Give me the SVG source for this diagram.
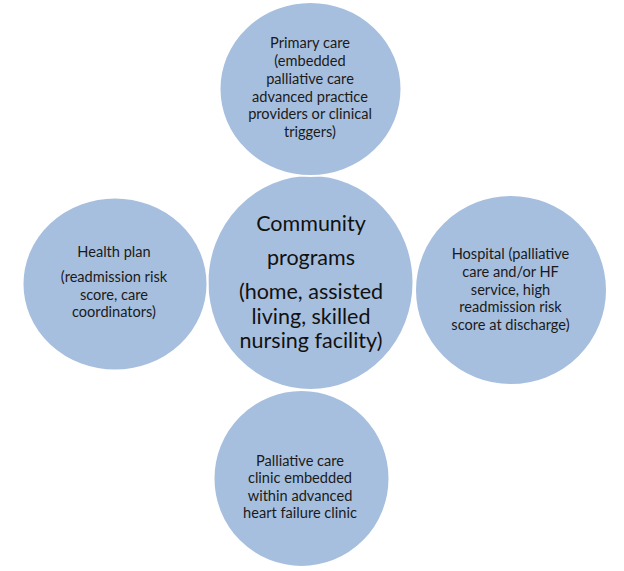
<svg xmlns="http://www.w3.org/2000/svg" width="624" height="571" viewBox="0 0 624 571">
<style>
.c{fill:#A7BFDE;stroke:#FFFFFF;stroke-width:2}
.t{font-family:Lato,"Liberation Sans",sans-serif;font-size:14.6px;fill:#1A1A1A;text-anchor:middle}
.b{font-family:Lato,"Liberation Sans",sans-serif;font-size:21.5px;fill:#111111;text-anchor:middle}
</style>
<rect width="624" height="571" fill="#FFFFFF"/>
<g id="connectors"></g>
<g id="center">
<ellipse class="c" cx="310.5" cy="282.5" rx="103" ry="107.5"/>
<text class="b" x="311" y="231">Community</text>
<text class="b" x="311" y="265">programs</text>
<text class="b" x="311" y="299">(home, assisted</text>
<text class="b" x="311" y="324">living, skilled</text>
<text class="b" x="311" y="348">nursing facility)</text>
</g>
<g id="primary-care">
<ellipse class="c" cx="310.5" cy="89" rx="91" ry="87"/>
<text class="t" x="310" y="48">Primary care</text>
<text class="t" x="310" y="66">(embedded</text>
<text class="t" x="310" y="84">palliative care</text>
<text class="t" x="310" y="102">advanced practice</text>
<text class="t" x="310" y="119">providers or clinical</text>
<text class="t" x="310" y="137">triggers)</text>
</g>
<g id="health-plan">
<ellipse class="c" cx="115" cy="284" rx="92.5" ry="86.5"/>
<text class="t" x="114" y="257">Health plan</text>
<text class="t" x="114" y="282">(readmission risk</text>
<text class="t" x="114" y="300">score, care</text>
<text class="t" x="114" y="317">coordinators)</text>
</g>
<g id="hospital">
<ellipse class="c" cx="511" cy="290" rx="96" ry="95"/>
<text class="t" x="510.5" y="259">Hospital (palliative</text>
<text class="t" x="510.5" y="277">care and/or HF</text>
<text class="t" x="510.5" y="295">service, high</text>
<text class="t" x="510.5" y="312">readmission risk</text>
<text class="t" x="510.5" y="330">score at discharge)</text>
</g>
<g id="palliative-clinic">
<ellipse class="c" cx="301.5" cy="478.5" rx="88" ry="88.5"/>
<text class="t" x="300" y="466">Palliative care</text>
<text class="t" x="300" y="483">clinic embedded</text>
<text class="t" x="300" y="501">within advanced</text>
<text class="t" x="300" y="518">heart failure clinic</text>
</g>
</svg>
